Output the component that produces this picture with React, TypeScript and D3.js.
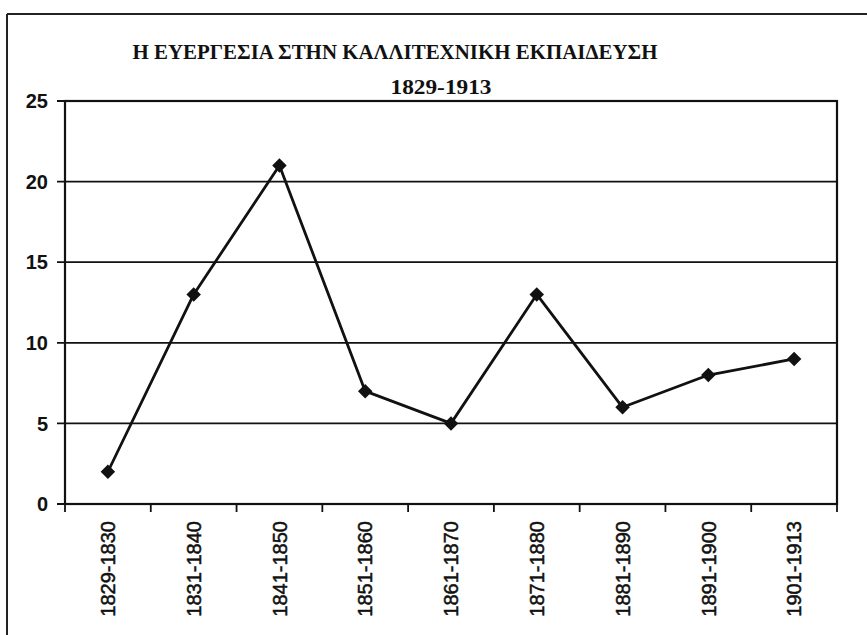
import * as d3 from "d3";

const periods = [
  "1829-1830",
  "1831-1840",
  "1841-1850",
  "1851-1860",
  "1861-1870",
  "1871-1880",
  "1881-1890",
  "1891-1900",
  "1901-1913",
];
const counts = [2, 13, 21, 7, 5, 13, 6, 8, 9];
const yTicks = [0, 5, 10, 15, 20, 25];

const title = "Η ΕΥΕΡΓΕΣΙΑ ΣΤΗΝ ΚΑΛΛΙΤΕΧΝΙΚΗ ΕΚΠΑΙΔΕΥΣΗ";
const subtitle = "1829-1913";

export default function App() {
  const width = 867;
  const height = 635;
  const plot = { left: 65, right: 837, top: 101, bottom: 504 };

  const x = d3.scaleBand<string>().domain(periods).range([plot.left, plot.right]);
  const y = d3.scaleLinear().domain([0, 25]).range([plot.bottom, plot.top]);
  const cx = (i: number) => x(periods[i])! + x.bandwidth() / 2;

  const line = d3
    .line<number>()
    .x((_, i) => cx(i))
    .y((d) => y(d));

  // square turned 45deg gives the even diamond of the scan
  const marker = d3.symbol(d3.symbolSquare, 105)();

  // band boundaries, used for x tick marks
  const xEdges = periods.map((p) => x(p)!).concat([plot.right]);

  return (
    <div style={{ position: "fixed", left: 0, top: 0 }}>
      <svg width={width} height={height} style={{ display: "block", background: "#fff" }}>
        {/* scanned page frame */}
        <line x1={7} x2={width} y1={14} y2={14} stroke="#222" strokeWidth={2} />
        <line x1={7} x2={7} y1={14} y2={height} stroke="#222" strokeWidth={2} />

        <text
          x={395}
          y={59}
          textAnchor="middle"
          fontFamily="'Liberation Serif', 'DejaVu Serif', serif"
          fontWeight="bold"
          fontSize={22}
          textLength={525}
          lengthAdjust="spacingAndGlyphs"
          fill="#111"
        >
          {title}
        </text>
        <text
          x={441}
          y={94}
          textAnchor="middle"
          fontFamily="'Liberation Serif', 'DejaVu Serif', serif"
          fontWeight="bold"
          fontSize={22}
          textLength={101}
          lengthAdjust="spacingAndGlyphs"
          fill="#111"
        >
          {subtitle}
        </text>

        {/* gridlines and y axis */}
        {yTicks.map((t) => (
          <g key={t}>
            <line x1={plot.left - 8} x2={plot.right} y1={y(t)} y2={y(t)} stroke="#111" strokeWidth={1.8} />
            <text
              x={48}
              y={y(t)}
              dy="0.36em"
              textAnchor="end"
              fontFamily="'Liberation Sans', Arial, sans-serif"
              fontWeight="bold"
              fontSize={20}
              fill="#111"
            >
              {t}
            </text>
          </g>
        ))}

        {/* plot frame */}
        <rect
          x={plot.left}
          y={plot.top}
          width={plot.right - plot.left}
          height={plot.bottom - plot.top}
          fill="none"
          stroke="#111"
          strokeWidth={2.2}
        />

        {/* x ticks and labels */}
        {xEdges.map((e, i) => (
          <line key={i} x1={e} x2={e} y1={plot.bottom} y2={plot.bottom + 8} stroke="#111" strokeWidth={1.8} />
        ))}
        {periods.map((p, i) => (
          <text
            key={p}
            transform={`translate(${cx(i)},521) rotate(-90)`}
            dy="0.36em"
            textAnchor="end"
            fontFamily="'Liberation Sans', Arial, sans-serif"
            fontSize={20}
            fill="#111"
            stroke="#111"
            strokeWidth={0.5}
          >
            {p}
          </text>
        ))}

        {/* series */}
        <path d={line(counts)!} fill="none" stroke="#111" strokeWidth={2.8} strokeLinejoin="round" />
        {counts.map((c, i) => (
          <path
            key={i}
            d={marker!}
            transform={`translate(${cx(i)},${y(c)}) rotate(45)`}
            fill="#111"
          />
        ))}
      </svg>
    </div>
  );
}
